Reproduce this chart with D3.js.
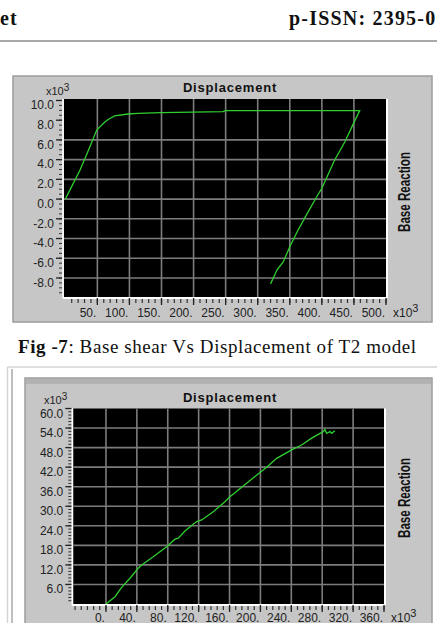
<!DOCTYPE html>
<html><head><meta charset="utf-8">
<script src="https://cdn.jsdelivr.net/npm/d3@7"></script>
<style>body{margin:0;background:#fff;} svg{display:block;}</style>
</head><body>
<svg id="c" width="437" height="623"></svg>
<script>
// ---------- text ----------
const headerLeft = "et";
const headerRight = "p-ISSN: 2395-0072";
const captionBold = "Fig -7";
const captionRest = ": Base shear Vs Displacement of T2 model";
const chartTitle = "Displacement";
const yAxisTitle = "Base Reaction";

// ---------- chart 1 (T2 model) ----------
const c1Disp  = [0, 23, 35, 49, 62, 70, 77, 98, 113, 150, 246, 249, 355, 459, 447, 436, 420, 400, 392, 376, 363, 350, 340, 330, 320];
const c1Shear = [0, 2.95, 4.78, 7.0, 7.85, 8.2, 8.43, 8.63, 8.7, 8.77, 8.87, 8.97, 8.97, 8.97, 7.35, 5.82, 3.97, 1.1, 0.24, -1.6, -3.14, -4.83, -6.35, -7.2, -8.6];
const c1XTicks  = [50, 100, 150, 200, 250, 300, 350, 400, 450, 500];
const c1XLabels = ["50.", "100.", "150.", "200.", "250.", "300.", "350.", "400.", "450.", "500."];
const c1XGrid   = [50, 100, 150, 200, 250, 300, 350, 400, 450];
const c1YTicks  = [10, 8, 6, 4, 2, 0, -2, -4, -6, -8];
const c1YLabels = ["10.0", "8.0", "6.0", "4.0", "2.0", "0.0", "-2.0", "-4.0", "-6.0", "-8.0"];
const c1YGrid   = [6, 4, 2, 0, -2, -4, -6, -8];

// ---------- chart 2 ----------
const c2Disp  = [0, 11.7, 20.3, 31.1, 41.8, 46.2, 61.2, 78.6, 89.3, 93.6, 102.3, 117.4, 123.9, 138.9, 154, 160.5, 177.7, 192.9, 208, 221, 240.4, 253.3, 266.3, 281.3, 283.5, 285.7, 290, 292.2, 296.4];
const c2Shear = [0, 2.24, 5.1, 7.9, 10.96, 11.97, 14.5, 17.6, 19.9, 20.2, 22.4, 25.3, 25.8, 28.3, 31.4, 32.9, 36.2, 39.1, 42, 44.7, 47.3, 48.8, 50.9, 52.9, 53.6, 52.4, 52.9, 52.4, 53.2];
const c2XTicks  = [0, 40, 80, 120, 160, 200, 240, 280, 320, 360];
const c2XLabels = ["0.", "40.", "80.", "120.", "160.", "200.", "240.", "280.", "320.", "360."];
const c2XGrid   = [0, 40, 80, 120, 160, 200, 240, 280, 320];
const c2YTicks  = [60, 54, 48, 42, 36, 30, 24, 18, 12, 6];
const c2YLabels = ["60.0", "54.0", "48.0", "42.0", "36.0", "30.0", "24.0", "18.0", "12.0", "6.0"];
const c2YGrid   = [54, 48, 42, 36, 30, 24, 18, 12, 6];

const svg = d3.select("#c");
const SANS = "'Liberation Sans', Arial, sans-serif";
const SERIF = "'Liberation Serif', 'DejaVu Serif', serif";

// header
svg.append("text").attr("x", 0).attr("y", 25).attr("font-family", SERIF).attr("font-weight", "bold")
  .attr("font-size", 20).attr("letter-spacing", 1).attr("fill", "#111").text(headerLeft);
svg.append("text").attr("x", 289).attr("y", 25).attr("font-family", SERIF).attr("font-weight", "bold")
  .attr("font-size", 20).attr("letter-spacing", 1.2).attr("fill", "#111").text(headerRight);
svg.append("line").attr("x1", 0).attr("x2", 437).attr("y1", 41).attr("y2", 41)
  .attr("stroke", "#8c8c8c").attr("stroke-width", 1.5);

// caption
const cap = svg.append("text").attr("x", 18).attr("y", 353).attr("font-family", SERIF)
  .attr("font-size", 19).attr("fill", "#111").attr("textLength", 398).attr("lengthAdjust", "spacing");
cap.append("tspan").attr("font-weight", "bold").text(captionBold);
cap.append("tspan").text(captionRest);

// chart 2 outer window frame
svg.append("line").attr("x1", 7.5).attr("x2", 437).attr("y1", 367).attr("y2", 367).attr("stroke", "#d4d4d4").attr("stroke-width", 1.5);
svg.append("line").attr("x1", 7.5).attr("x2", 7.5).attr("y1", 367).attr("y2", 623).attr("stroke", "#d4d4d4").attr("stroke-width", 1.5);
svg.append("line").attr("x1", 12).attr("x2", 12).attr("y1", 369).attr("y2", 623).attr("stroke", "#a8a8a8").attr("stroke-width", 1.5);

function drawChart(cfg) {
  const g = svg.append("g");
  const P = cfg.panel, R = cfg.plot;
  // panel
  g.append("rect").attr("x", P.x).attr("y", P.y).attr("width", P.w).attr("height", P.h)
    .attr("fill", "#c6c6c6").attr("stroke", "#9c9c9c").attr("stroke-width", 1.5);
  if (cfg.topBand) {
    g.append("rect").attr("x", P.x + 1).attr("y", P.y + 1).attr("width", P.w - 2).attr("height", cfg.topBand)
      .attr("fill", "#b2b2b2");
  }
  const x = d3.scaleLinear().domain(cfg.xDomain).range([R.l, R.r]);
  const y = d3.scaleLinear().domain(cfg.yDomain).range([R.b, R.t]);

  // plot background
  g.append("rect").attr("x", R.l).attr("y", R.t).attr("width", R.r - R.l).attr("height", R.b - R.t).attr("fill", "#000");

  // grid
  g.selectAll(null).data(cfg.xGrid).join("line")
    .attr("x1", d => x(d)).attr("x2", d => x(d)).attr("y1", R.t).attr("y2", R.b)
    .attr("stroke", "#7c7c7c").attr("stroke-width", 1.6);
  g.selectAll(null).data(cfg.yGrid).join("line")
    .attr("x1", R.l).attr("x2", R.r).attr("y1", d => y(d)).attr("y2", d => y(d))
    .attr("stroke", "#7c7c7c").attr("stroke-width", 1.6);

  // curve
  const pts = cfg.xs.map((v, i) => [v, cfg.ys[i]]);
  g.append("path").attr("d", d3.line().x(d => x(d[0])).y(d => y(d[1]))(pts))
    .attr("fill", "none").attr("stroke", "#2fcf2f").attr("stroke-width", 1.3);

  // axis lines (white)
  g.append("line").attr("x1", R.l - 1).attr("x2", R.r + 1).attr("y1", R.b + 1).attr("y2", R.b + 1)
    .attr("stroke", "#fff").attr("stroke-width", 2);
  g.append("line").attr("x1", R.l - 1).attr("x2", R.l - 1).attr("y1", R.t).attr("y2", R.b + 1)
    .attr("stroke", "#fff").attr("stroke-width", 1.5);
  g.append("line").attr("x1", R.r + 1).attr("x2", R.r + 1).attr("y1", R.t).attr("y2", R.b + 1)
    .attr("stroke", "#fff").attr("stroke-width", 2);

  // x ticks
  const xMin = d3.range(cfg.xMinor[0], cfg.xMinor[1] + 1e-9, cfg.xMinor[2]);
  g.selectAll(null).data(xMin).join("line")
    .attr("x1", d => x(d)).attr("x2", d => x(d)).attr("y1", R.b + 2).attr("y2", R.b + 6)
    .attr("stroke", "#333").attr("stroke-width", 1.2);
  g.selectAll(null).data(cfg.xTicks).join("line")
    .attr("x1", d => x(d)).attr("x2", d => x(d)).attr("y1", R.b + 1).attr("y2", R.b + 8)
    .attr("stroke", "#222").attr("stroke-width", 1.3);
  g.selectAll(null).data(cfg.xTicks).join("text")
    .attr("x", d => x(d) - 1).attr("y", R.b + cfg.xLabelDy).attr("text-anchor", "end")
    .attr("dominant-baseline", "central").attr("font-family", SANS).attr("font-size", 12).attr("fill", "#222")
    .text((d, i) => cfg.xLabels[i]);
  const xn = g.append("text").attr("x", R.r + 7).attr("y", R.b + cfg.xLabelDy).attr("dominant-baseline", "central")
    .attr("font-family", SANS).attr("font-size", 12).attr("fill", "#222").text("x10");
  xn.append("tspan").attr("dy", -5).attr("font-size", 11).text("3");

  // y ticks
  const yMin = d3.range(cfg.yMinor[0], cfg.yMinor[1] + 1e-9, cfg.yMinor[2]);
  g.selectAll(null).data(yMin).join("line")
    .attr("x1", R.l - 5).attr("x2", R.l - 2).attr("y1", d => y(d)).attr("y2", d => y(d))
    .attr("stroke", "#333").attr("stroke-width", 1);
  g.selectAll(null).data(cfg.yTicks).join("line")
    .attr("x1", R.l - 8).attr("x2", R.l - 2).attr("y1", d => y(d)).attr("y2", d => y(d))
    .attr("stroke", "#222").attr("stroke-width", 1.3);
  g.selectAll(null).data(cfg.yTicks).join("text")
    .attr("x", R.l - 10).attr("y", d => y(d) + cfg.yLabelDy).attr("text-anchor", "end")
    .attr("dominant-baseline", "central").attr("font-family", SANS).attr("font-size", 12).attr("fill", "#222")
    .text((d, i) => cfg.yLabels[i]);
  const yn = g.append("text").attr("x", cfg.yNote[0]).attr("y", cfg.yNote[1]).attr("dominant-baseline", "central")
    .attr("font-family", SANS).attr("font-size", 11).attr("fill", "#222").text("x10");
  yn.append("tspan").attr("dy", -4).attr("font-size", 10).text("3");

  // title
  g.append("text").attr("x", 230).attr("y", cfg.titleY).attr("text-anchor", "middle").attr("dominant-baseline", "central")
    .attr("font-family", SANS).attr("font-weight", "bold").attr("font-size", 13).attr("letter-spacing", 0.8)
    .attr("fill", "#111").text(chartTitle);

  // y title (rotated, condensed)
  const yt = g.append("text").attr("text-anchor", "middle").attr("dominant-baseline", "central")
    .attr("font-family", SANS).attr("font-weight", "bold").attr("font-size", 16).attr("fill", "#111").text(yAxisTitle);
  const len = yt.node().getComputedTextLength();
  const sx = 80 / len;
  yt.attr("transform", `translate(404,${cfg.yTitleY}) rotate(-90) scale(${sx},1)`);
}

drawChart({
  panel: {x: 13, y: 76, w: 419, h: 246},
  plot: {l: 64, t: 99, r: 386, b: 297},
  xDomain: [-2, 500], yDomain: [-9.93, 10.15],
  xTicks: c1XTicks, xLabels: c1XLabels, xGrid: c1XGrid, xMinor: [10, 500, 10],
  yTicks: c1YTicks, yLabels: c1YLabels, yGrid: c1YGrid, yMinor: [-9.5, 10, 0.5],
  xs: c1Disp, ys: c1Shear,
  xLabelDy: 16, titleY: 87, yNote: [46, 91], yTitleY: 192, yLabelDy: 4.7
});

drawChart({
  panel: {x: 25, y: 378, w: 407, h: 250},
  topBand: 5,
  plot: {l: 73.3, t: 408.5, r: 384, b: 604},
  xDomain: [-42.3, 360], yDomain: [0, 60],
  xTicks: c2XTicks, xLabels: c2XLabels, xGrid: c2XGrid, xMinor: [-40, 360, 8],
  yTicks: c2YTicks, yLabels: c2YLabels, yGrid: c2YGrid, yMinor: [1, 60, 1],
  xs: c2Disp, ys: c2Shear,
  xLabelDy: 13.5, titleY: 397, yNote: [44, 400], yTitleY: 498, yLabelDy: 5
});
</script>
</body></html>
